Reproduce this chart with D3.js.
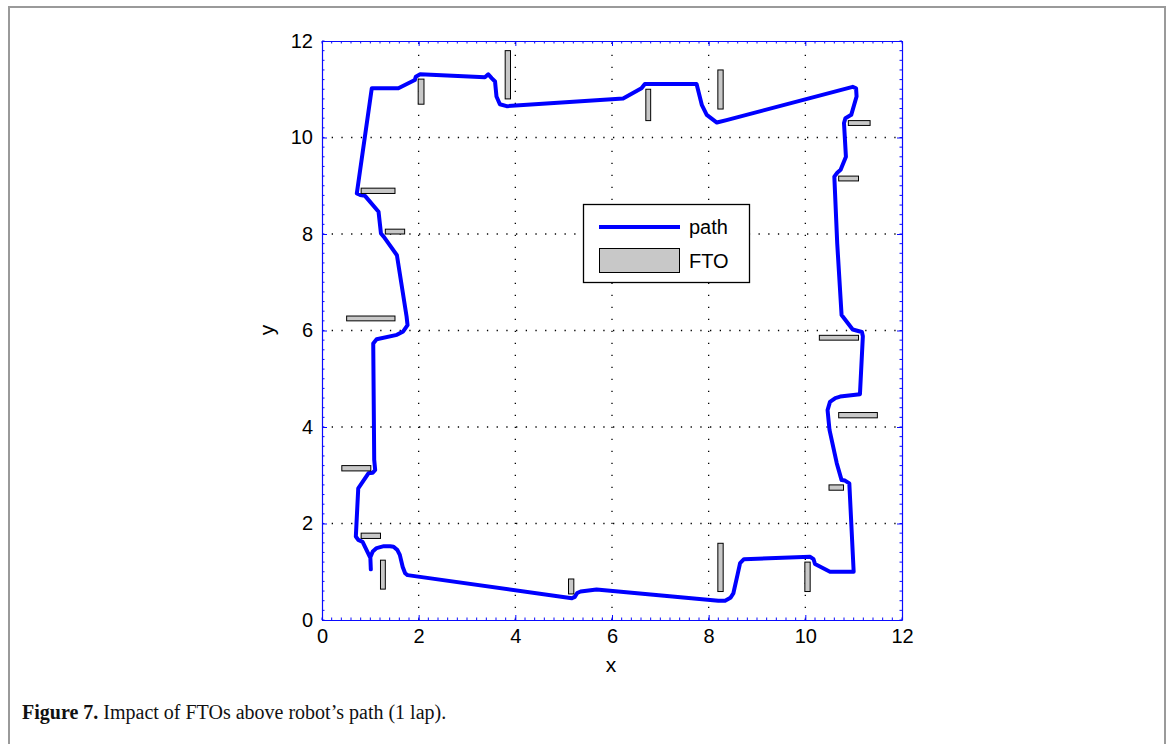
<!DOCTYPE html>
<html><head><meta charset="utf-8">
<script src="https://d3js.org/d3.v7.min.js"></script>
<style>body{margin:0;background:#fff}svg{display:block}</style>
</head><body>
<script>
// ---- data ----
const pathX = [1.01,1.00,1.05,1.13,1.28,1.41,1.48,1.56,1.61,1.67,1.72,1.77,5.17,5.23,5.28,5.35,5.68,8.20,8.34,8.45,8.51,8.60,8.65,8.73,10.10,10.17,10.20,10.51,11.00,10.91,10.82,10.75,10.65,10.50,10.46,10.51,10.62,10.72,11.13,11.19,11.17,10.98,10.75,10.66,10.60,10.66,10.73,10.84,10.80,10.83,10.95,11.06,11.05,10.98,8.37,8.17,7.96,7.86,7.75,6.68,6.61,6.23,3.82,3.68,3.61,3.58,3.51,3.44,3.37,2.03,1.94,1.92,1.58,1.03,0.72,0.79,0.89,1.17,1.22,1.28,1.55,1.75,1.77,1.68,1.55,1.13,1.06,1.08,1.10,1.05,0.96,0.75,0.70,0.75,0.84,0.99];
const pathY = [1.05,1.30,1.42,1.49,1.53,1.53,1.52,1.45,1.35,1.10,0.97,0.93,0.45,0.48,0.56,0.59,0.63,0.40,0.40,0.46,0.55,0.95,1.18,1.26,1.31,1.26,1.16,1.00,1.00,2.83,2.89,2.90,3.25,3.94,4.35,4.52,4.60,4.63,4.68,5.88,5.97,6.02,6.32,7.80,9.19,9.27,9.33,9.60,10.30,10.40,10.47,10.85,11.02,11.05,10.36,10.31,10.47,10.67,11.11,11.11,11.02,10.81,10.65,10.69,10.85,11.16,11.23,11.31,11.25,11.31,11.26,11.19,11.02,11.02,8.84,8.81,8.79,8.46,8.01,7.94,7.56,6.29,6.11,5.98,5.91,5.82,5.73,3.32,3.11,3.05,3.04,2.73,1.73,1.66,1.62,1.31];
// FTO rectangles: lower-left corner and size (data units)
const ftoX = [1.99,3.79,0.81,1.31,6.70,8.19,10.89,10.69,0.51,10.29,10.69,0.41,0.81,1.21,5.10,8.19,9.99,10.49];
const ftoY = [10.69,10.80,8.84,8.00,10.35,10.59,10.25,9.10,6.20,5.80,4.19,3.09,1.69,0.64,0.54,0.59,0.59,2.69];
const ftoW = [0.12,0.11,0.70,0.40,0.10,0.11,0.45,0.41,1.00,0.81,0.80,0.60,0.40,0.10,0.11,0.11,0.11,0.30];
const ftoH = [0.52,1.00,0.11,0.10,0.65,0.81,0.10,0.10,0.10,0.10,0.11,0.11,0.11,0.60,0.31,1.00,0.61,0.11];
const xTicks = [0,2,4,6,8,10,12];
const yTicks = [0,2,4,6,8,10,12];
const legendLabels = ["path","FTO"];
const caption = {bold:"Figure 7.", rest:"Impact of FTOs above robot’s path (1 lap)."};

// ---- drawing ----
const W = 1171, H = 744;
const svg = d3.select("body").append("svg").attr("width", W).attr("height", H);
const x = d3.scaleLinear().domain([0,12]).range([322,902]);
const y = d3.scaleLinear().domain([0,12]).range([620,41]);
const axisCol = "#0a0aff";
const sans = "'Liberation Sans', Arial, Helvetica, sans-serif";

// figure frame
svg.append("path").attr("d", `M9,${H+5} V7 H1165 V${H+5}`).attr("fill","none").attr("stroke","#9a9a9a").attr("stroke-width",2);

// grid
const grid = svg.append("g");
[2,4,6,8,10].forEach(v => {
  grid.append("line").attr("x1",x(v)).attr("x2",x(v)).attr("y1",y(0)).attr("y2",y(12))
    .attr("stroke","#000").attr("stroke-width",1.3).attr("stroke-dasharray","1.3,10.7");
  grid.append("line").attr("x1",x(0)).attr("x2",x(12)).attr("y1",y(v)).attr("y2",y(v))
    .attr("stroke","#000").attr("stroke-width",1.3).attr("stroke-dasharray","1.3,8.4");
});

// minor ticks
const minor = d3.range(0, 12.001, 0.2);
const tk = svg.append("g").attr("stroke", axisCol).attr("stroke-width",1);
minor.forEach(v => {
  tk.append("line").attr("x1",x(v)).attr("x2",x(v)).attr("y1",y(12)).attr("y2",y(12)+2.5);
  tk.append("line").attr("x1",x(v)).attr("x2",x(v)).attr("y1",y(0)).attr("y2",y(0)-2.5);
  tk.append("line").attr("y1",y(v)).attr("y2",y(v)).attr("x1",x(0)).attr("x2",x(0)+2.5);
  tk.append("line").attr("y1",y(v)).attr("y2",y(v)).attr("x1",x(12)).attr("x2",x(12)-2.5);
});

// axes
const xAxisB = d3.axisBottom(x).tickValues(xTicks).tickSize(-5).tickPadding(9);
const xAxisT = d3.axisTop(x).tickValues(xTicks).tickSize(-5).tickFormat("");
const yAxisL = d3.axisLeft(y).tickValues(yTicks).tickSize(-5).tickPadding(9);
const yAxisR = d3.axisRight(y).tickValues(yTicks).tickSize(-5).tickFormat("");
function style(g){
  g.select(".domain").attr("stroke",axisCol).attr("stroke-width",1.2);
  g.selectAll(".tick line").attr("stroke",axisCol);
  g.selectAll("text").attr("fill","#000").style("font-family",sans).style("font-size","20px");
}
svg.append("g").attr("transform",`translate(0,${y(0)})`).call(xAxisB.tickSizeOuter(0)).call(style);
svg.append("g").attr("transform",`translate(0,${y(12)})`).call(xAxisT.tickSizeOuter(0)).call(style);
svg.append("g").attr("transform",`translate(${x(0)},0)`).call(yAxisL.tickSizeOuter(0)).call(style);
svg.append("g").attr("transform",`translate(${x(12)},0)`).call(yAxisR.tickSizeOuter(0)).call(style);

// axis labels
svg.append("text").attr("x",611).attr("y",672).attr("text-anchor","middle")
  .style("font-family",sans).style("font-size","21px").text("x");
svg.append("text").attr("transform","translate(274,330) rotate(-90)").attr("text-anchor","middle")
  .style("font-family",sans).style("font-size","21px").text("y");

// path
const pts = pathX.map((d,i)=>[d,pathY[i]]);
svg.append("path").datum(pts)
  .attr("d", d3.line().x(d=>x(d[0])).y(d=>y(d[1])).curve(d3.curveLinear))
  .attr("fill","none").attr("stroke","#0000ff").attr("stroke-width",4).attr("stroke-linejoin","round").attr("stroke-linecap","round");

// FTOs
svg.append("g").selectAll("rect").data(ftoX.map((d,i)=>i)).join("rect")
  .attr("x", i=>x(ftoX[i])).attr("y", i=>y(ftoY[i]+ftoH[i]))
  .attr("width", i=>x(ftoX[i]+ftoW[i])-x(ftoX[i]))
  .attr("height", i=>y(ftoY[i])-y(ftoY[i]+ftoH[i]))
  .attr("fill","#c8c8c8").attr("stroke","#000").attr("stroke-width",1);

// legend
const lg = svg.append("g");
lg.append("rect").attr("x",583.5).attr("y",204.5).attr("width",166).attr("height",78)
  .attr("fill","#fff").attr("stroke","#000").attr("stroke-width",1.3);
lg.append("line").attr("x1",599).attr("x2",680).attr("y1",227).attr("y2",227)
  .attr("stroke","#0000ff").attr("stroke-width",4);
lg.append("rect").attr("x",599.5).attr("y",248.5).attr("width",80).attr("height",24)
  .attr("fill","#c8c8c8").attr("stroke","#000").attr("stroke-width",1);
lg.selectAll("text.lbl").data(legendLabels).join("text").attr("class","lbl")
  .attr("x",689).attr("y",(d,i)=>234+i*34)
  .style("font-family",sans).style("font-size","20px").text(d=>d);

// caption
const serif = "'Liberation Serif', 'Times New Roman', serif";
const capB = svg.append("text").attr("x",22).attr("y",719)
  .style("font-family",serif).style("font-size","20px").style("font-weight","bold").attr("fill","#111")
  .text(caption.bold);
const bw = capB.node().getComputedTextLength();
svg.append("text").attr("x",22 + bw + 5).attr("y",719)
  .style("font-family",serif).style("font-size","20px").attr("fill","#111")
  .text(caption.rest);
</script>
</body></html>
